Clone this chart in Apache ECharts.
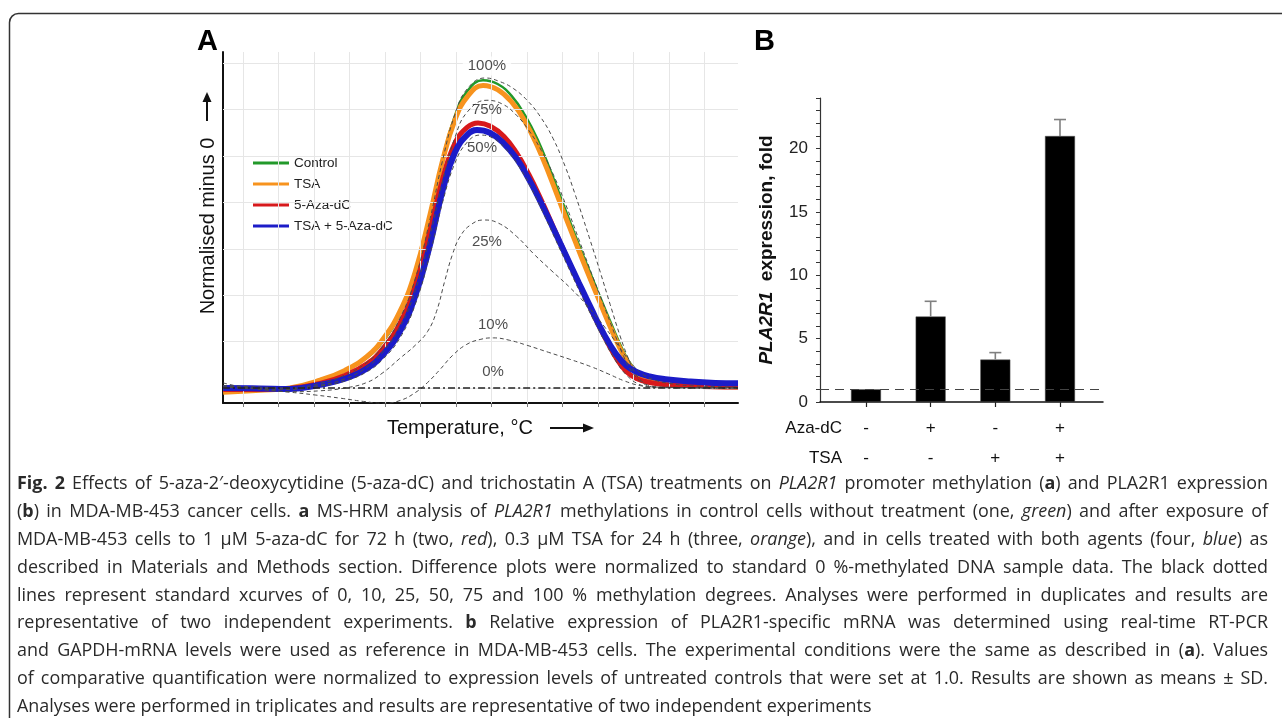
<!DOCTYPE html>
<html><head><meta charset="utf-8">
<script src="https://cdn.jsdelivr.net/npm/echarts@6/dist/echarts.min.js"></script>
<style>html,body{margin:0;padding:0;background:#fff}#c{width:1282px;height:718px}</style>
</head><body><div id="c"></div>
<script>
// ---------------- Panel A data (x: temperature grid units, y: normalised minus 0) ----------------
const gridX = [0,1,2,3,4,5,6,7,8,9,10,11,12,13];
const gridY = [0,1,2,3,4,5,6,7];
const legendNames = ['Control','TSA','5-Aza-dC','TSA + 5-Aza-dC'];
const controlCurve = [[-0.56,-0.05],[0.48,-0.04],[1.32,0.0],[2.17,0.15],[2.87,0.36],[3.49,0.65],[3.94,1.0],[4.42,1.6],[4.85,2.45],[5.27,3.75],[5.62,4.95],[5.97,5.87],[6.32,6.4],[6.76,6.63],[7.17,6.55],[7.58,6.28],[7.94,5.88],[8.30,5.35],[8.65,4.7],[9.00,4.0],[9.35,3.3],[9.70,2.63],[10.05,1.97],[10.40,1.33],[10.72,0.78],[11.00,0.43],[11.30,0.24],[11.70,0.14],[12.31,0.08],[13.15,0.05],[13.94,0.04]];
const tsaCurve = [[-0.56,-0.09],[0.48,-0.05],[1.32,0.0],[2.17,0.17],[2.87,0.38],[3.49,0.68],[3.94,1.05],[4.42,1.65],[4.85,2.5],[5.27,3.75],[5.62,4.9],[5.97,5.78],[6.32,6.28],[6.76,6.52],[7.17,6.43],[7.58,6.15],[7.94,5.75],[8.30,5.2],[8.65,4.55],[9.00,3.85],[9.35,3.17],[9.70,2.5],[10.05,1.85],[10.40,1.22],[10.72,0.7],[11.00,0.38],[11.30,0.21],[11.70,0.12],[12.31,0.06],[13.15,0.03],[13.94,0.02]];
const azaCurve = [[-0.56,-0.03],[0.48,-0.03],[1.32,-0.01],[2.17,0.1],[2.87,0.27],[3.49,0.52],[3.94,0.85],[4.42,1.4],[4.85,2.2],[5.27,3.4],[5.62,4.5],[5.97,5.28],[6.32,5.62],[6.62,5.71],[6.97,5.64],[7.35,5.42],[7.70,5.07],[8.05,4.6],[8.40,4.05],[8.75,3.45],[9.10,2.85],[9.45,2.27],[9.80,1.7],[10.15,1.15],[10.50,0.66],[10.80,0.35],[11.10,0.2],[11.45,0.12],[11.90,0.07],[12.60,0.04],[13.94,0.02]];
const comboCurve = [[-0.56,0.0],[0.48,-0.01],[1.32,-0.02],[2.17,0.07],[2.87,0.2],[3.49,0.42],[3.94,0.72],[4.42,1.22],[4.85,1.98],[5.27,3.1],[5.62,4.25],[5.97,5.08],[6.32,5.46],[6.59,5.56],[6.95,5.5],[7.33,5.28],[7.70,4.95],[8.05,4.5],[8.40,3.98],[8.75,3.42],[9.10,2.85],[9.45,2.28],[9.80,1.72],[10.15,1.18],[10.50,0.74],[10.80,0.48],[11.10,0.34],[11.45,0.25],[11.90,0.19],[12.60,0.14],[13.30,0.11],[13.94,0.1]];
const std100 = [[-0.56,0.05],[0.48,0.02],[1.32,0.0],[2.17,0.1],[2.87,0.28],[3.49,0.55],[3.94,0.9],[4.42,1.5],[4.85,2.35],[5.27,3.65],[5.62,4.9],[5.97,5.9],[6.32,6.45],[6.82,6.68],[7.24,6.6],[7.62,6.45],[8.0,6.2],[8.37,5.85],[8.73,5.38],[9.07,4.78],[9.35,4.18],[9.58,3.65],[9.77,3.2],[10.06,2.5],[10.34,1.8],[10.62,1.12],[10.82,0.7],[11.04,0.33],[11.27,0.12],[11.52,0.04],[11.9,0.01],[13.94,0.0]];
const std75 = [[-0.56,0.02],[1.32,-0.02],[2.17,0.06],[2.87,0.2],[3.49,0.45],[3.94,0.78],[4.42,1.32],[4.85,2.1],[5.27,3.3],[5.62,4.45],[5.97,5.4],[6.32,5.95],[6.87,6.2],[7.30,6.12],[7.70,5.88],[8.05,5.55],[8.40,5.12],[8.75,4.58],[9.10,3.93],[9.45,3.22],[9.80,2.5],[10.15,1.8],[10.45,1.2],[10.72,0.68],[11.0,0.3],[11.27,0.1],[11.6,0.02],[13.94,0.0]];
const std50 = [[-0.56,0.02],[1.32,-0.03],[2.17,0.04],[2.87,0.15],[3.49,0.35],[3.94,0.62],[4.42,1.08],[4.85,1.8],[5.27,2.9],[5.62,4.0],[5.97,4.85],[6.32,5.3],[6.68,5.45],[7.05,5.38],[7.40,5.15],[7.75,4.8],[8.10,4.33],[8.45,3.78],[8.80,3.2],[9.15,2.62],[9.50,2.05],[9.85,1.5],[10.20,0.98],[10.50,0.58],[10.80,0.28],[11.1,0.1],[11.45,0.03],[13.94,0.0]];
const std25 = [[-0.56,0.05],[0.48,-0.02],[1.32,-0.08],[2.17,-0.06],[2.87,0.0],[3.49,0.12],[3.94,0.33],[4.42,0.64],[4.85,0.92],[5.2,1.22],[5.45,1.65],[5.68,2.3],[5.9,2.88],[6.12,3.27],[6.42,3.52],[6.78,3.62],[7.2,3.55],[7.7,3.27],[8.2,2.88],[8.7,2.52],[9.2,2.17],[9.7,1.77],[10.2,1.3],[10.6,0.88],[10.95,0.52],[11.25,0.3],[11.6,0.17],[12.0,0.1],[12.6,0.05],[13.94,0.02]];
const std10 = [[-0.56,0.11],[-0.08,0.03],[0.6,-0.04],[1.32,-0.09],[2.03,-0.15],[2.75,-0.22],[3.4,-0.29],[3.95,-0.33],[4.42,-0.27],[4.85,-0.1],[5.2,0.12],[5.55,0.4],[5.9,0.7],[6.3,0.94],[6.7,1.05],[7.05,1.08],[7.5,1.03],[8.0,0.92],[8.6,0.77],[9.2,0.62],[9.8,0.46],[10.3,0.3],[10.75,0.15],[11.2,0.05],[11.7,0.01],[13.94,0.0]];
const std0 = [[-0.56,0],[13.94,0]];
const pctLabels = [[6.87,6.94,'100%'],[6.87,5.99,'75%'],[6.73,5.17,'50%'],[6.87,3.15,'25%'],[7.04,1.36,'10%'],[7.04,0.34,'0%']];

// ---------------- Panel B data ----------------
const barPos = [1,2,3,4];
const barMeans = [1.0, 6.75, 3.35, 21.0];
const barSD = [0, 1.2, 0.55, 1.3];
const azaSigns = ['-','+','-','+'];
const tsaSigns = ['-','-','+','+'];
const yTicksB = [0,1,2,3,4,5,6,7,8,9,10,11,12,13,14,15,16,17,18,19,20,21,22,23,24];
const yLabelsB = [0,5,10,15,20];
const refLevel = 1;

// ---------------- Caption ----------------
const captionLines = [
 "**Fig. 2** Effects of 5-aza-2′-deoxycytidine (5-aza-dC) and trichostatin A (TSA) treatments on _PLA2R1_ promoter methylation (**a**) and PLA2R1 expression",
 "(**b**) in MDA-MB-453 cancer cells. **a** MS-HRM analysis of _PLA2R1_ methylations in control cells without treatment (one, _green_) and after exposure of",
 "MDA-MB-453 cells to 1 µM 5-aza-dC for 72 h (two, _red_), 0.3 µM TSA for 24 h (three, _orange_), and in cells treated with both agents (four, _blue_) as",
 "described in Materials and Methods section. Difference plots were normalized to standard 0 %-methylated DNA sample data. The black dotted",
 "lines represent standard xcurves of 0, 10, 25, 50, 75 and 100 % methylation degrees. Analyses were performed in duplicates and results are",
 "representative of two independent experiments. **b** Relative expression of PLA2R1-specific mRNA was determined using real-time RT-PCR",
 "and GAPDH-mRNA levels were used as reference in MDA-MB-453 cells. The experimental conditions were the same as described in (**a**). Values",
 "of comparative quantification were normalized to expression levels of untreated controls that were set at 1.0. Results are shown as means ± SD.",
 "Analyses were performed in triplicates and results are representative of two independent experiments"
];

const ARIAL = '"Liberation Sans", Arial, Helvetica, sans-serif';
const CAPFONT = '"Open Sans"';

function parseLine(s){
  let b=false,i=false,cur='';const words=[[]];
  const flush=()=>{ if(cur){ words[words.length-1].push({t:cur,b:b,i:i}); cur=''; } };
  for(let k=0;k<s.length;k++){
    if(s.startsWith('**',k)){ flush(); b=!b; k++; continue; }
    const c=s[k];
    if(c==='_'){ flush(); i=!i; continue; }
    if(c===' '){ flush(); words.push([]); continue; }
    cur+=c;
  }
  flush();
  return words.filter(w=>w.length);
}
const mctx = document.createElement('canvas').getContext('2d');
function fstr(seg,size){ return (seg.i?'italic ':'')+(seg.b?'bold ':'')+size+'px '+CAPFONT; }
function measure(seg,size){ mctx.font=fstr(seg,size); return mctx.measureText(seg.t).width; }

function captionGraphics(){
  const X0=17, X1=1268, W=X1-X0, Y0=484, DY=27.85;
  const parsed = captionLines.map(parseLine);
  const base=16;
  mctx.font = base+'px '+CAPFONT; const sp0 = mctx.measureText(' ').width;
  let ratio = 10;
  parsed.forEach((words,li)=>{
    if(li===parsed.length-1) return;
    let tot=0; words.forEach(w=>w.forEach(s=>tot+=measure(s,base)));
    tot += sp0*(words.length-1);
    ratio = Math.min(ratio, W/tot);
  });
  const fs = +(base*ratio*0.965).toFixed(2);
  mctx.font = fs+'px '+CAPFONT; const sp = mctx.measureText(' ').width;
  const els=[];
  parsed.forEach((words,li)=>{
    const ww = words.map(w=>w.reduce((a,s)=>a+measure(s,fs),0));
    const tot = ww.reduce((a,b)=>a+b,0);
    const gap = (li===parsed.length-1) ? sp : (W-tot)/(words.length-1);
    let x=X0; const y=Y0+li*DY;
    words.forEach((w,wi)=>{
      let xx=x;
      w.forEach(s=>{
        els.push({type:'text', x:xx, y:y, silent:true,
          style:{text:s.t, font:fstr(s,fs), fill:'#2a2a2a', align:'left', verticalAlign:'middle', textAlign:'left', textVerticalAlign:'middle'}});
        xx += measure(s,fs);
      });
      x += ww[wi]+gap;
    });
  });
  return els;
}

const chart = echarts.init(document.getElementById('c'), null, {renderer:'canvas'});

function curve(name, data, color, width, z){
  return {type:'line', name:name, data:data, xAxisIndex:0, yAxisIndex:0, symbol:'none', smooth:0.45,
    color:color, lineStyle:{color:color, width:width}, z:z, silent:true};
}
function stdCurve(data, type, color, width){
  return {type:'line', data:data, xAxisIndex:0, yAxisIndex:0, symbol:'none', smooth:0.45, silent:true,
    lineStyle:{color:color||'#4a4a4a', width:width||1, type:type||[4,3]}, z:6};
}

const series = [
  {type:'line', data:std0, xAxisIndex:0, yAxisIndex:0, symbol:'none', silent:true, z:0,
   lineStyle:{opacity:0},
   markLine:{silent:true, symbol:'none', label:{show:false}, animation:false,
     lineStyle:{color:'#e6e6e6', width:1, type:'solid'},
     data: gridX.map(v=>({xAxis:v})).concat(gridY.map(v=>({yAxis:v})))}},
  curve('Control', controlCurve, '#22992a', 2.5, 2),
  curve('TSA', tsaCurve, '#f7931e', 5, 3),
  curve('5-Aza-dC', azaCurve, '#d7191c', 5, 4),
  curve('TSA + 5-Aza-dC', comboCurve, '#1c1cc8', 6, 5),
  stdCurve(std100), stdCurve(std75), stdCurve(std50), stdCurve(std25), stdCurve(std10),
  stdCurve(std0, [7,3,2,3], '#222', 1.3),
  {type:'scatter', xAxisIndex:0, yAxisIndex:0, symbolSize:1, silent:true, z:8,
   itemStyle:{color:'rgba(0,0,0,0)'},
   data: pctLabels.map((d,i)=>({value:d, label: i===0 ? {backgroundColor:'#fff', padding:[2,5]} : {}})),
   label:{show:true, position:'inside', formatter:p=>p.value[2], fontSize:15, color:'#222', fontFamily:ARIAL}},
  // Panel B
  {type:'bar', xAxisIndex:1, yAxisIndex:1, barWidth:30, silent:true,
   data: barPos.map((x,i)=>[x, barMeans[i]]),
   itemStyle:{color:'#000', borderColor:'#555', borderWidth:0.5},
   markLine:{silent:true, symbol:'none', label:{show:false}, animation:false,
     lineStyle:{color:'#444', width:1, type:[9,6]}, data:[{yAxis:refLevel}]}},
  {type:'custom', xAxisIndex:1, yAxisIndex:1, silent:true, z:3,
   data: barPos.map((x,i)=>[x, barMeans[i], barSD[i]]),
   renderItem:function(params, api){
     const x=api.value(0), m=api.value(1), s=api.value(2);
     if(!s) return null;
     const p0=api.coord([x,m]), p1=api.coord([x,m+s]);
     const hw=6;
     return {type:'group', children:[
       {type:'line', shape:{x1:p0[0],y1:p0[1],x2:p1[0],y2:p1[1]}, style:{stroke:'#808080', lineWidth:1.6}},
       {type:'line', shape:{x1:p1[0]-hw,y1:p1[1],x2:p1[0]+hw,y2:p1[1]}, style:{stroke:'#808080', lineWidth:1.6}}
     ]};
   }}
];

const graphics = [
  {type:'rect', silent:true, z:-10, shape:{x:9.5, y:13.5, width:1400, height:900, r:9}, style:{fill:'none', stroke:'#333', lineWidth:1.5}},
  {type:'text', x:197, y:42, silent:true, style:{text:'A', font:'bold 29px '+ARIAL, fill:'#000', verticalAlign:'middle', textVerticalAlign:'middle'}},
  {type:'text', x:754, y:42, silent:true, style:{text:'B', font:'bold 29px '+ARIAL, fill:'#000', verticalAlign:'middle', textVerticalAlign:'middle'}},
  {type:'text', x:208, y:226, rotation:Math.PI/2, silent:true, style:{text:'Normalised minus 0', font:'20px '+ARIAL, fill:'#111', align:'center', verticalAlign:'middle', textAlign:'center', textVerticalAlign:'middle'}},
  {type:'line', silent:true, shape:{x1:207, y1:121, x2:207, y2:100}, style:{stroke:'#111', lineWidth:2}},
  {type:'polygon', silent:true, shape:{points:[[202.5,102],[207,92],[211.5,102]]}, style:{fill:'#111'}},
  {type:'text', x:387, y:428, silent:true, style:{text:'Temperature, °C', font:'20px '+ARIAL, fill:'#111', align:'left', verticalAlign:'middle', textAlign:'left', textVerticalAlign:'middle'}},
  {type:'line', silent:true, shape:{x1:550, y1:428, x2:585, y2:428}, style:{stroke:'#111', lineWidth:2}},
  {type:'polygon', silent:true, shape:{points:[[583,423.5],[594,428],[583,432.5]]}, style:{fill:'#111'}},
  {type:'text', x:842, y:428, silent:true, style:{text:'Aza-dC', font:'17px '+ARIAL, fill:'#111', align:'right', verticalAlign:'middle', textAlign:'right', textVerticalAlign:'middle'}},
  {type:'text', x:842, y:458, silent:true, style:{text:'TSA', font:'17px '+ARIAL, fill:'#111', align:'right', verticalAlign:'middle', textAlign:'right', textVerticalAlign:'middle'}}
].concat(captionGraphics());

chart.setOption({
  animation:false,
  backgroundColor:'#fff',
  grid:[
    {left:223, top:52, width:515, height:351, outerBoundsMode:'none', containLabel:false},
    {left:820, top:98, width:283, height:304, outerBoundsMode:'none', containLabel:false}
  ],
  legend:{left:253, top:156, padding:0, orient:'vertical', icon:'rect', itemWidth:36, itemHeight:3, itemGap:7,
    selectedMode:false, data:legendNames,
    textStyle:{fontSize:13.5, color:'#222', fontFamily:ARIAL}},
  xAxis:[
    {gridIndex:0, type:'value', min:-0.563, max:13.94,
     axisLine:{onZero:false, lineStyle:{color:'#111', width:2}},
     axisTick:{show:true, customValues:gridX, length:4, lineStyle:{color:'#777'}},
     axisLabel:{show:false}, splitLine:{show:false}},
    {gridIndex:1, type:'value', min:0.289, max:4.665,
     axisLine:{onZero:false, lineStyle:{color:'#111', width:1.5}},
     axisTick:{show:true, customValues:barPos, length:5, lineStyle:{color:'#222', width:1.2}},
     axisLabel:{show:true, customValues:barPos, fontSize:17, lineHeight:30, color:'#111', margin:11, fontFamily:ARIAL,
       formatter:function(v){ const i=barPos.indexOf(Math.round(v)); return azaSigns[i]+'\n'+tsaSigns[i]; }},
     splitLine:{show:false}}
  ],
  yAxis:[
    {gridIndex:0, type:'value', min:-0.323, max:7.24,
     axisLine:{show:true, onZero:false, lineStyle:{color:'#111', width:2}},
     axisTick:{show:false}, axisLabel:{show:false}, splitLine:{show:false}},
    {gridIndex:1, type:'value', min:0, max:24,
     axisLine:{show:true, onZero:false, lineStyle:{color:'#333', width:1.2}},
     axisTick:{show:true, customValues:yTicksB, length:4, lineStyle:{color:'#333'}},
     axisLabel:{show:true, customValues:yLabelsB, fontSize:17, color:'#222', margin:12, fontFamily:ARIAL},
     splitLine:{show:false},
     name:'{i|PLA2R1}{b|  expression, fold}', nameLocation:'middle', nameGap:44, nameRotate:90,
     nameTextStyle:{rich:{
       i:{fontStyle:'italic', fontWeight:'bold', fontSize:19, fontFamily:ARIAL, color:'#111'},
       b:{fontWeight:'bold', fontSize:19, fontFamily:ARIAL, color:'#111'}}}}
  ],
  graphic:{elements:graphics},
  series:series
});
</script></body></html>
